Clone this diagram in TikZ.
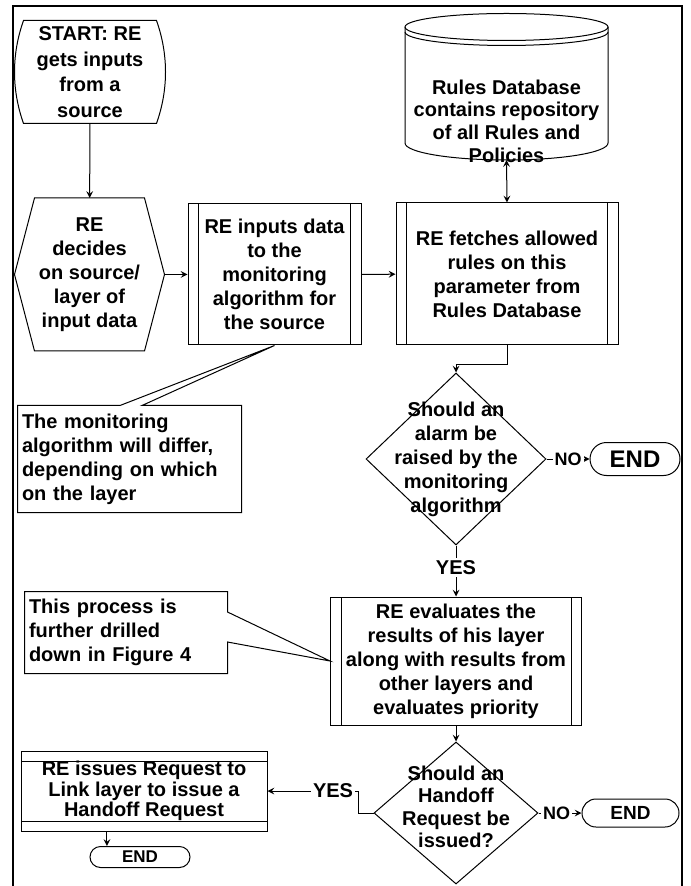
\documentclass[tikz,border=0pt]{standalone}
\usepackage{fontspec}
\setmainfont{Liberation Sans}
\usepackage{tikz}
\usetikzlibrary{arrows,shapes.geometric,calc,positioning}
\tikzstyle{frame}=[line width=1.2pt]
\tikzstyle{txt}=[rectangle]
\tikzstyle{proc}=[draw,rectangle,path picture={
        \draw ([xshift=5.25pt]path picture bounding box.north west) -- ([xshift=5.25pt]path picture bounding box.south west);
        \draw ([xshift=-5.25pt]path picture bounding box.north east) -- ([xshift=-5.25pt]path picture bounding box.south east);}]
\tikzstyle{reqbox}=[draw,rectangle,path picture={
        \draw ([yshift=-5pt]path picture bounding box.north west) -- ([yshift=-5pt]path picture bounding box.north east);
        \draw ([yshift=5pt]path picture bounding box.south west) -- ([yshift=5pt]path picture bounding box.south east);}]
\tikzstyle{term}=[draw,rectangle]
\tikzstyle{lbl}=[fill=white,inner sep=1pt]

\begin{document}
\begin{tikzpicture}[
        x=0.5pt,y=-0.5pt,
        line width=0.5pt,
        >=stealth,
        font=\bfseries\fontsize{10pt}{12pt}\selectfont,
        every node/.style={inner sep=0pt,align=center},
        nofont/.style={font=\bfseries\fontsize{9pt}{10pt}\selectfont}
        ]
        \useasboundingbox (0,0) rectangle (690,886);
        \draw[frame] (13,886) -- (13,6) -- (682,6) -- (682,886);

        \node[txt,minimum width=66pt,minimum height=51pt,font=\bfseries\fontsize{10pt}{12.8pt}\selectfont] (start) at (90,72) {START: RE\\gets inputs\\from a\\source};
        \draw (start.north west) -- (start.north east) .. controls +(12,34) and +(12,-34) .. (start.south east) -- (start.south west) .. controls +(-12,-34) and +(-12,34) .. (start.north west) -- (start.north);

        \node[txt,minimum width=54.5pt,minimum height=76pt] (hex) at (89.5,274.5) {RE\\decides\\on source/\\layer of\\input data};
        \draw (hex.north west) -- (hex.north east) -- ($(hex.east)+(20,0)$) coordinate (hexr) -- (hex.south east) -- (hex.south west) -- ($(hex.west)+(-20,0)$) -- cycle;

        \node[proc,minimum width=86.5pt,minimum height=70.5pt] (inp) at (274.5,274.5) {RE inputs data\\to the\\monitoring\\algorithm for\\the source};
        \node[proc,minimum width=111pt,minimum height=71pt] (fetch) at (507,274) {RE fetches allowed\\rules on this\\parameter from\\Rules Database};

        \node[txt,font=\bfseries\fontsize{10pt}{11.3pt}\selectfont] (db) at (506.5,121) {Rules Database\\contains repository\\of all Rules and\\Policies};
        \draw (506.5,27) ellipse [x radius=101.5, y radius=13.5];
        \draw (405,32) arc [start angle=180, end angle=0, x radius=101.5, y radius=13.5];
        \draw (405,27) -- (405,143) arc [start angle=180, end angle=0, x radius=101.5, y radius=17] -- (608,27);
        \coordinate (dbbot) at (506.5,160);

        \node[diamond,draw,minimum width=90pt,minimum height=86pt,label={[align=center]center:Should an\\alarm be\\raised by the\\monitoring\\algorithm}] (alarm) at (456,459) {};
        \node[term,rounded corners=8.25pt,minimum width=45pt,minimum height=16.5pt,font=\bfseries\fontsize{12pt}{14pt}\selectfont] (end1) at (635,459) {END};

        \node[txt,align=left,text width=107.5pt,inner xsep=2pt,minimum height=53pt] (note1) at (129.5,459) {The monitoring\\algorithm will differ,\\depending on which\\on the layer};
        \draw (note1.south west) -- (note1.north west) -- ($(note1.north)+(-9.5,0)$) -- (inp.south) -- ($(note1.north)+(12.5,0)$) -- (note1.north east) -- (note1.south east) -- cycle;

        \node[proc,minimum width=125.5pt,minimum height=64pt] (eval) at (456,661) {RE evaluates the\\results of his layer\\along with results from\\other layers and\\evaluates priority};

        \node[txt,align=left,text width=97pt,inner xsep=2pt,minimum height=40.5pt] (note2) at (126,632.5) {This process is\\further drilled\\down in Figure 4};
        \draw (note2.south east) -- (note2.south west) -- (note2.north west) -- (note2.north east) -- ($(note2.east)+(0,-20.5)$) -- (eval.west) -- ($(note2.east)+(0,9.5)$) -- cycle;

        \node[diamond,draw,minimum width=82pt,minimum height=71pt,label={[align=center,yshift=3pt,font=\bfseries\fontsize{10pt}{11.2pt}\selectfont]center:Should an\\Handoff\\Request be\\issued?}] (handoff) at (456,813) {};
        \node[term,rounded corners=7pt,minimum width=48.5pt,minimum height=14pt,font=\bfseries\fontsize{9.5pt}{11pt}\selectfont] (end2) at (630.5,813) {END};

        \node[reqbox,minimum width=123pt,minimum height=40pt,font=\bfseries\fontsize{10pt}{9pt}\selectfont] (req) at (144,791) {RE issues Request to\\Link layer to issue a\\Handoff Request};
        \node[term,rounded corners=5.25pt,minimum width=50pt,minimum height=10.5pt,font=\bfseries\fontsize{8.5pt}{10pt}\selectfont] (end3) at (140,857) {END};

        \path[->]
        (start) edge (hex)
        (inp) edge (fetch)
        (alarm) edge node[lbl,pos=0.43] {YES} (eval)
        (eval) edge (handoff)
        ;
        \draw[->] (hexr) -- (inp.west);
        \draw[<->] (dbbot) -- (fetch.north);
        \draw[->] (fetch.south) -- ++(0,19) -| (alarm.north);
        \draw[->] (alarm.east) -- node[lbl,nofont] {NO} (end1.west);
        \draw[->] (handoff.east) -- node[lbl,nofont,pos=0.42] {NO} (end2.west);
        \draw[->] (handoff.west) -- ++(-15,0) |- node[lbl,pos=0.64] {YES} (req.east);
        \draw[->] ($(req.south west)!0.35!(req.south east)$) coordinate (rq) -- (rq |- end3.north);
    \end{tikzpicture}
\end{document}
